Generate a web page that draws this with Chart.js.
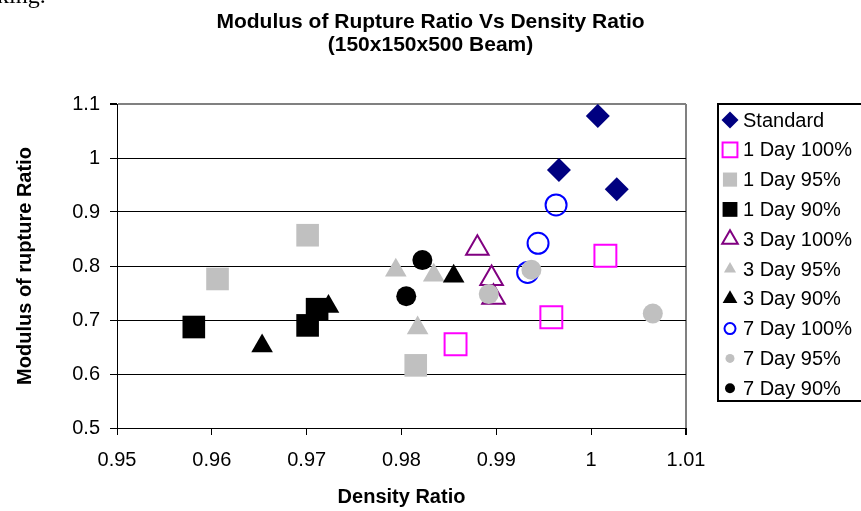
<!DOCTYPE html>
<html>
<head>
<meta charset="utf-8">
<script src="https://cdn.jsdelivr.net/npm/chart.js@4.4.0/dist/chart.umd.min.js"></script>
<style>
  html, body { margin: 0; padding: 0; background: #fff; overflow: hidden; }
  #wrap { position: relative; width: 861px; height: 511px; }
  #c { position: absolute; left: 0; top: 0; }
  #frag { position: absolute; left: -3px; top: -17px; font-family: 'Liberation Serif', 'Times New Roman', serif; font-size: 24px; line-height: 1; color: #000; white-space: nowrap; }
</style>
</head>
<body>
<div id="wrap">
  <canvas id="c" width="861" height="511"></canvas>
  <div id="frag">king.</div>
</div>
<script>
// ---- data ----
const seriesNames = ['Standard', '1 Day 100%', '1 Day 95%', '1 Day 90%', '3 Day 100%', '3 Day 95%', '3 Day 90%', '7 Day 100%', '7 Day 95%', '7 Day 90%'];

const standardX = [1.0007, 0.9966, 1.0027];
const standardY = [1.078, 0.978, 0.942];
const day1p100X = [0.9857, 0.9958, 1.0015];
const day1p100Y = [0.655, 0.705, 0.819];
const day1p95X = [0.9606, 0.9701, 0.9815];
const day1p95Y = [0.776, 0.857, 0.616];
const day1p90X = [0.9581, 0.9701, 0.9711];
const day1p90Y = [0.687, 0.690, 0.720];
const day3p100X = [0.9880, 0.9895, 0.9897];
const day3p100Y = [0.833, 0.777, 0.742];
const day3p95X = [0.9794, 0.9834, 0.9817];
const day3p95Y = [0.792, 0.783, 0.685];
const day3p90X = [0.9653, 0.9723, 0.9855];
const day3p90Y = [0.652, 0.725, 0.781];
const day7p100X = [0.9963, 0.9944, 0.9933];
const day7p100Y = [0.913, 0.842, 0.788];
const day7p95X = [0.9892, 0.9937, 1.0065];
const day7p95Y = [0.748, 0.793, 0.712];
const day7p90X = [0.9822, 0.9805];
const day7p90Y = [0.811, 0.744];

const xTickLabels = ['0.95', '0.96', '0.97', '0.98', '0.99', '1', '1.01'];
const yTickLabels = ['0.5', '0.6', '0.7', '0.8', '0.9', '1', '1.1'];

const seriesX = [standardX, day1p100X, day1p95X, day1p90X, day3p100X, day3p95X, day3p90X, day7p100X, day7p95X, day7p90X];
const seriesY = [standardY, day1p100Y, day1p95Y, day1p90Y, day3p100Y, day3p95Y, day3p90Y, day7p100Y, day7p95Y, day7p90Y];

// ---- styles ----
const TRANSPARENT = 'rgba(0,0,0,0)';
const styles = [
  { shape: 'rectRot',  r: 12, fill: '#000080', stroke: '#000080', bw: 0, lr: 8.5 },
  { shape: 'rect',     r: 15.5, fill: TRANSPARENT, stroke: '#FF00FF', bw: 2, lr: 10.5 },
  { shape: 'rect',     r: 16, fill: '#C0C0C0', stroke: '#C0C0C0', bw: 0, lr: 10 },
  { shape: 'rect',     r: 16, fill: '#000000', stroke: '#000000', bw: 0, lr: 10.5 },
  { shape: 'triangle', r: 13, fill: TRANSPARENT, stroke: '#800080', bw: 2, lr: 9 },
  { shape: 'triangle', r: 12.5, fill: '#C0C0C0', stroke: '#C0C0C0', bw: 0, lr: 7 },
  { shape: 'triangle', r: 12.5, fill: '#000000', stroke: '#000000', bw: 0, lr: 8.5 },
  { shape: 'circle',   r: 10.5, fill: TRANSPARENT, stroke: '#0000FF', bw: 2, lr: 5.5 },
  { shape: 'circle',   r: 10, fill: '#C0C0C0', stroke: '#C0C0C0', bw: 0, lr: 4.5 },
  { shape: 'circle',   r: 10, fill: '#000000', stroke: '#000000', bw: 0, lr: 5 }
];

const FONT = "'Liberation Sans', Arial, sans-serif";

const datasets = seriesNames.map((name, i) => ({
  label: name,
  data: seriesX[i].map((x, k) => ({ x: x, y: seriesY[i][k] })),
  pointStyle: styles[i].shape,
  pointRadius: styles[i].r,
  pointHoverRadius: styles[i].r,
  backgroundColor: styles[i].fill,
  borderColor: styles[i].stroke,
  pointBorderWidth: styles[i].bw,
  borderWidth: styles[i].bw,
  showLine: false,
  order: seriesNames.length - 1 - i
}));

const near = (a, b) => Math.abs(a - b) < 1e-6;

// custom boxed legend drawn with Chart.js point helper
const boxedLegend = {
  id: 'boxedLegend',
  afterDraw(chart) {
    const ctx = chart.ctx;
    const left = 718, top = 104, bottom = 401, right = 880;
    ctx.save();
    ctx.lineWidth = 2;
    ctx.strokeStyle = '#000';
    ctx.strokeRect(left, top, right - left, bottom - top);
    ctx.font = '20px ' + FONT;
    ctx.textBaseline = 'middle';
    ctx.textAlign = 'left';
    const step = 29.8;
    seriesNames.forEach((name, i) => {
      const y = 120 + i * step;
      const s = styles[i];
      ctx.save();
      ctx.fillStyle = s.fill;
      ctx.strokeStyle = s.stroke;
      ctx.lineWidth = s.bw;
      Chart.helpers.drawPoint(ctx, { pointStyle: s.shape, radius: s.lr, rotation: 0, borderWidth: s.bw }, 730, y);
      ctx.restore();
      ctx.fillStyle = '#000';
      ctx.fillText(name, 743, y + 1);
    });
    ctx.restore();
  }
};

new Chart(document.getElementById('c'), {
  type: 'scatter',
  data: { datasets: datasets },
  options: {
    responsive: false,
    animation: false,
    devicePixelRatio: 1,
    layout: { padding: 0 },
    plugins: {
      legend: { display: false },
      tooltip: { enabled: false },
      title: {
        display: true,
        text: ['Modulus of Rupture Ratio Vs Density Ratio', '(150x150x500 Beam)'],
        color: '#000',
        font: { family: FONT, size: 21, weight: 'bold', lineHeight: 1.1 },
        padding: { top: 11, bottom: 46.8 }
      }
    },
    scales: {
      x: {
        type: 'linear',
        position: 'bottom',
        min: 0.95,
        max: 1.01,
        afterFit(scale) { scale.height = 83; scale.paddingRight = 175; },
        ticks: {
          stepSize: 0.01,
          color: '#000',
          font: { family: FONT, size: 20 },
          padding: 13,
          maxRotation: 0,
          callback: (v, i) => xTickLabels[i]
        },
        grid: {
          color: (c) => (c.tick && near(c.tick.value, 1.01)) ? '#808080' : TRANSPARENT,
          lineWidth: (c) => (c.tick && near(c.tick.value, 1.01)) ? 2 : 1,
          tickColor: '#000',
          tickLength: 7,
          drawTicks: true
        },
        border: { display: true, color: '#000', width: 1 },
        title: {
          display: true,
          text: 'Density Ratio',
          color: '#000',
          font: { family: FONT, size: 20, weight: 'bold', lineHeight: 1.2 },
          padding: { top: 0, bottom: 2 }
        }
      },
      y: {
        type: 'linear',
        min: 0.5,
        max: 1.1,
        afterFit(scale) { scale.width = 117; },
        ticks: {
          stepSize: 0.1,
          color: '#000',
          font: { family: FONT, size: 20 },
          padding: 10,
          callback: (v, i) => yTickLabels[i]
        },
        grid: {
          color: (c) => (c.tick && near(c.tick.value, 1.1)) ? '#808080' : '#000',
          lineWidth: (c) => (c.tick && near(c.tick.value, 1.1)) ? 2 : 1,
          tickColor: '#000',
          tickLength: 7,
          drawTicks: true
        },
        border: { display: true, color: '#000', width: 1 },
        title: {
          display: true,
          text: 'Modulus of rupture Ratio',
          color: '#000',
          font: { family: FONT, size: 20, weight: 'bold', lineHeight: 1.2 },
          padding: { top: 13, bottom: 0 }
        }
      }
    }
  },
  plugins: [boxedLegend]
});
</script>
</body>
</html>
